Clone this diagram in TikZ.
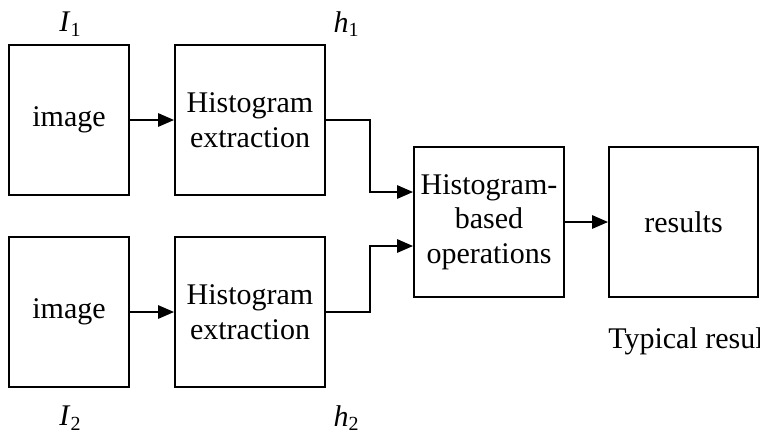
\documentclass[tikz,border=0pt]{standalone}
\usepackage{fontspec}
\setmainfont{Liberation Serif}
\usetikzlibrary{arrows.meta}
\usetikzlibrary{positioning}

\tikzset{
  blockbox/.style={draw=black, line width=1.4pt, align=center, inner sep=0pt,
    font=\fontsize{22.5}{26}\selectfont},
  flow/.style={line width=1.4pt, -{Triangle[length=12pt,width=10pt]}},
  sigtext/.style={font=\fontsize{22.5}{26}\selectfont, inner sep=0pt}
}

\begin{document}
\begin{tikzpicture}[x=0.75pt,y=-0.75pt]
\useasboundingbox (0,0) rectangle (760,437);
            \node[blockbox, minimum width=90pt, minimum height=112.5pt] (img1) at (69,120) {image};
\node[blockbox, minimum width=90pt, minimum height=112.5pt] (img2) at (69,312) {image};
\node[blockbox, minimum width=112.5pt, minimum height=112.5pt] (hist1) at (250,120) {Histogram\\extraction};
\node[blockbox, minimum width=112.5pt, minimum height=112.5pt] (hist2) at (250,312) {Histogram\\extraction};
\node[blockbox, minimum width=112.5pt, minimum height=112.5pt] (ops) at (489,222) {Histogram-\\based\\operations};
\node[blockbox, minimum width=111.75pt, minimum height=112.5pt] (res) at (683.5,222) {results};
\node[sigtext] (lblI1) at (70,24) {\textit{I}\raisebox{-0.35ex}{\fontsize{15}{15}\selectfont 1}};
\node[sigtext] (lblI2) at (70,418) {\textit{I}\raisebox{-0.35ex}{\fontsize{15}{15}\selectfont 2}};
\node[sigtext] (lblh1) at (346,24) {\textit{h}\raisebox{-0.35ex}{\fontsize{15}{15}\selectfont 1}};
\node[sigtext] (lblh2) at (346,418) {\textit{h}\raisebox{-0.35ex}{\fontsize{15}{15}\selectfont 2}};
\node[sigtext, anchor=west] (typ) at (608,341) {Typical results};
\draw[flow] (img1) -- (hist1);
\draw[flow] (img2) -- (hist2);
\draw[flow] (hist1.east) -- ++(44,0) |- ([yshift=22.5pt]ops.west);
\draw[flow] (hist2.east) -- ++(44,0) |- ([yshift=-18pt]ops.west);
\draw[flow] (ops) -- (res);
        \end{tikzpicture}
\end{document}
